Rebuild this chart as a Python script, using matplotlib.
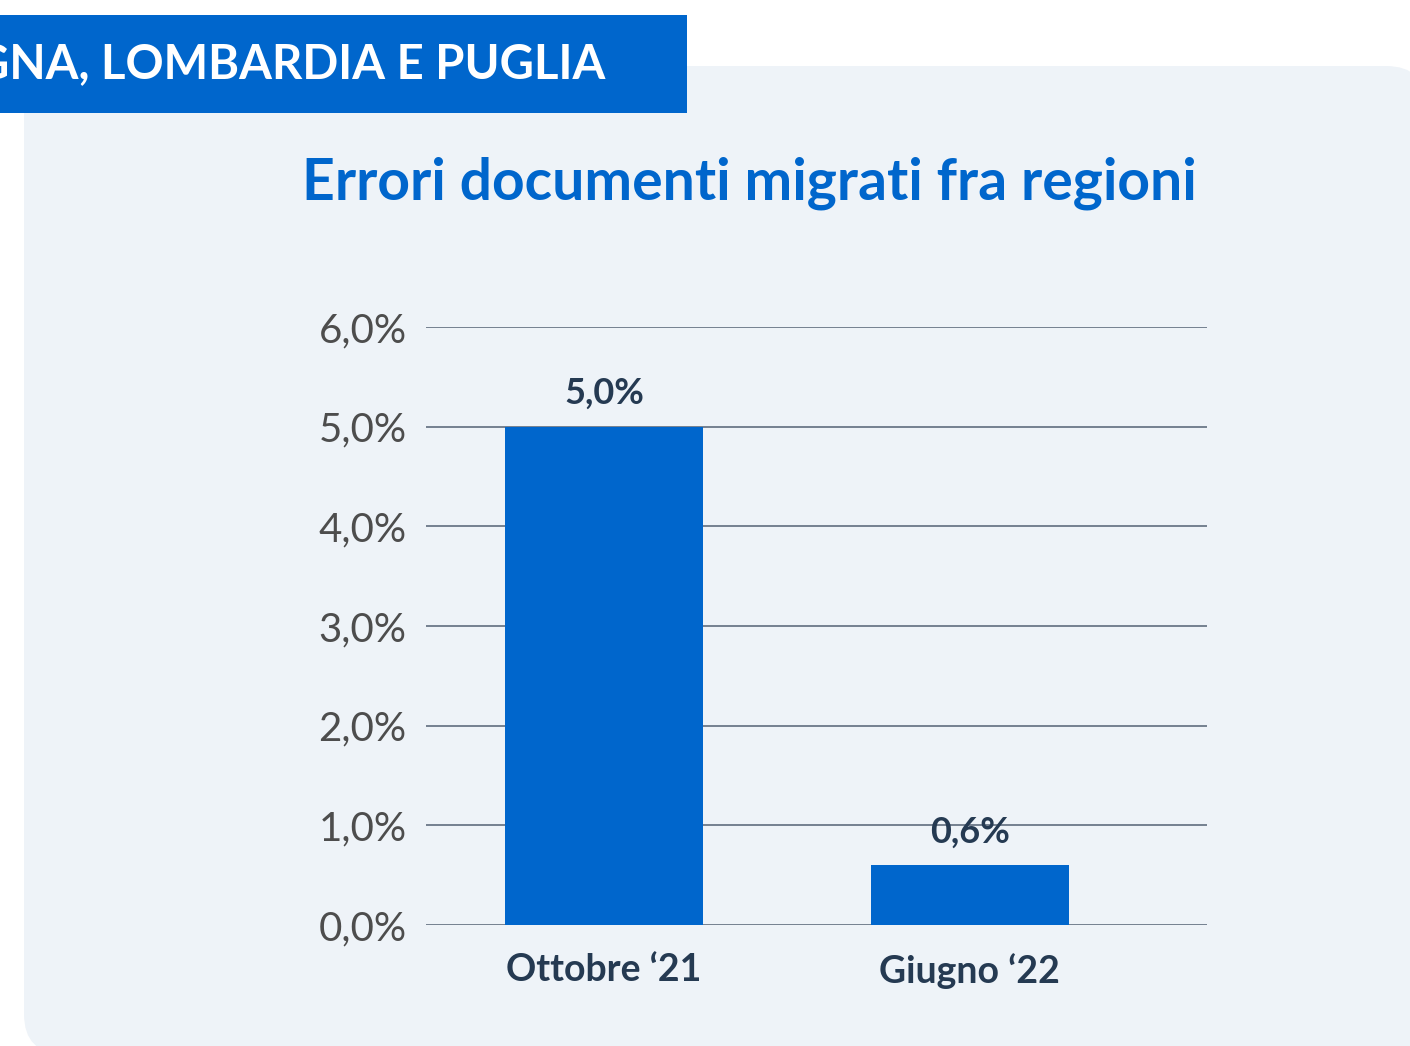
import numpy as np
import matplotlib
matplotlib.use("Agg")
from matplotlib import pyplot as plt
from matplotlib.patches import FancyBboxPatch, Rectangle

# data
categories = ["Ottobre \u201821", "Giugno \u201822"]
values = [5.0, 0.6]
value_labels = ["5,0%", "0,6%"]
yticks = [0, 1, 2, 3, 4, 5, 6]
ytick_labels = ["0,0%", "1,0%", "2,0%", "3,0%", "4,0%", "5,0%", "6,0%"]

title = "Errori documenti migrati fra regioni"
header = "GNA, LOMBARDIA E PUGLIA"

blue = "#0066CC"
navy = "#253a52"
panel = "#EEF3F8"

plt.rcParams["font.family"] = ["Lato", "DejaVu Sans"]

W, H = 1410, 1046
fig = plt.figure(figsize=(W / 100, H / 100), dpi=100)
fig.patch.set_facecolor("white")

# background axes in pixel units (panel + header band)
bg = fig.add_axes([0, 0, 1, 1], zorder=-1)
bg.set_xlim(0, W)
bg.set_ylim(H, 0)
bg.axis("off")
bg.add_patch(FancyBboxPatch((24, 66), 1402, 988,
                            boxstyle="round,pad=0,rounding_size=40",
                            facecolor=panel, edgecolor="none"))
bg.add_patch(Rectangle((0, 15), 687, 98, facecolor=blue, edgecolor="none"))
# header text is cut at the left edge like in the original
bg.text(605, 64, header, color="white", fontsize=34,
        fontweight="bold", ha="right", va="center")
bg.text(749, 183, title, color=blue, fontsize=41,
        fontweight="bold", ha="center", va="center")

ax = fig.add_axes([426 / W, 121 / H, 781 / W, 598 / H], zorder=2)
ax.set_facecolor("none")
x = np.arange(len(categories))
ax.bar(x, values, width=0.541, color=blue, zorder=3)
ax.set_xlim(-0.486, 1.648)
ax.set_ylim(0, 6)
ax.set_yticks(yticks)
ax.set_yticklabels(ytick_labels, fontsize=29, color="#4d4d4d", fontweight="normal")
ax.set_xticks(x)
ax.set_xticklabels(categories, fontsize=27, color=navy, fontweight="bold")
ax.tick_params(axis="y", length=0, pad=14)
ax.tick_params(axis="x", length=0, pad=20)
for s in ax.spines.values():
    s.set_visible(False)
ax.grid(axis="y", color="#6b7888", linewidth=1.3, zorder=1)
ax.set_axisbelow(True)

for xi, v, lab in zip(x, values, value_labels):
    ax.annotate(lab, (xi, v), xytext=(0, 12), textcoords="offset points",
                ha="center", va="bottom", fontsize=26, fontweight="bold",
                color=navy, zorder=4)

fig.savefig("out.png", dpi=100)
